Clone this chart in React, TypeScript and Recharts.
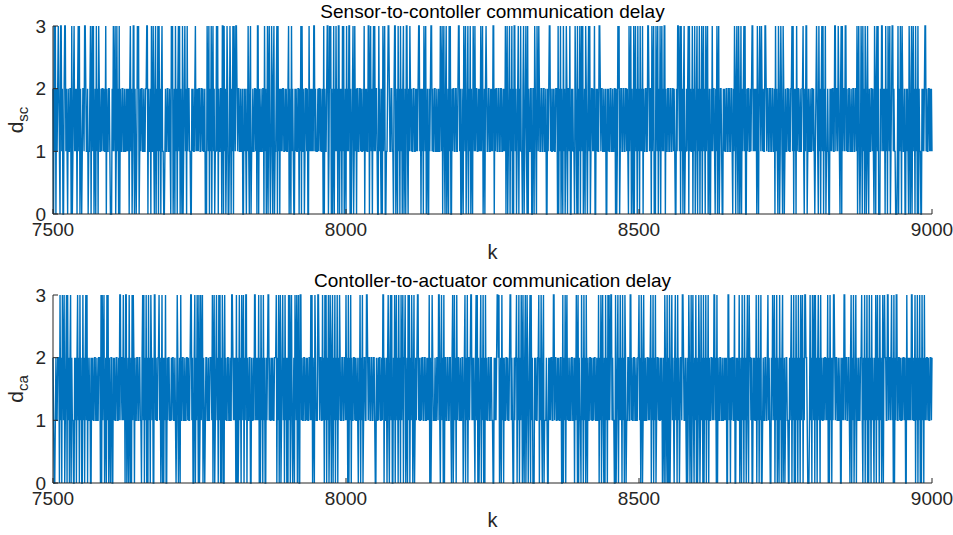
import { LineChart, Line, XAxis, YAxis } from "recharts"

const K_START = 7500
const K_TICKS = [7500, 8000, 8500, 9000]
const D_TICKS = [0, 1, 2, 3]

// delay samples, one digit per k (50 per row)
const SC_DELAY_ROWS = [
  "20313021232103312002331210211220301231212023130210",
  "12213321120112302313012031203211212212113021122100",
  "02131230131203021122112112121202312013302101323012",
  "12211211223302112031131023021303120231100121122112",
  "10323012031202313021030123120312211002121123121212",
  "21122121120103213021302312011313021122033031201320",
  "01320213032133212211211200212102131023011211221203",
  "30211211220312013023101320230112303120212122112121",
  "12302103121002121122021303112012212003121212133121",
  "11212212112030211233013230201302131203302120313012",
  "03121330201230131202211221211213021211330231202313",
  "12210031210203123001123321122110233012031203120230",
  "12033102132121122112121233120212032130120021233121",
  "12211211211321302310230120313002122112211233120021",
  "03213012302130210321312211212131230120232112211212",
  "13302122112211221121213023012302130203312012302131",
  "10230123103021122002203210321321122112211200212331",
  "21121211222030213021031201320221300212110321030213",
  "02313012032102313012212130021211332122112112002121",
  "12211211220201323012211221122121031230210302312031",
  "20312130211221133212203123010321302130231213302112",
  "21122112212100213321303120230112123031211302130123",
  "02130213023120312301200213122102130230122100212112",
  "21122112210213202310320130212313002122112123312121",
  "20310232132121133212211221122112031210320132103201",
  "21122121122313021203122112112231021330121121122121",
  "01232103120231302130112100212122113312213210230312",
  "21331211221121122112213023101320312032013102112212",
  "10320231300021331212031203213012331211000130213203",
  "21120021210320130231203120302110021212331211221212",
  "1",
]

const CA_DELAY_ROWS = [
  "21001211222031203213012303120230211002120231203120",
  "03120231302112002121122112112220303123012031302102",
  "20021211221121331221312033012031020313202112211221",
  "10231302130203120321200331211223120130202130021221",
  "11212211210132012031122112112212112331200230213203",
  "01312302101221121122213023012312031302032003121122",
  "11211332121203020131203213021330211220021121331212",
  "13020312031200212331211212112223021302301231203120",
  "20313023101203213023003312112211212112213130210321",
  "11332122113120313021301320230213021302132112211221",
  "31203021302112212112102130213012211332122112211221",
  "00211212211213302112023102313002130231203120312302",
  "23012031302132013012123312112122112211212130201321",
  "11211221331023120302211221122102301312031221121122",
  "01230213022123312121023130201230213020312112211221",
  "10021212332301203120211221211233121002122302130213",
  "20310230132012303120002121122302131023011121002121",
  "22113312211212112200302130231211211221120213203021",
  "10312031203102112212112122112113021302310203120313",
  "12331211003012302131203120320112211331211221121122",
  "31203201311211221212302130213012212112120120320130",
  "20301231210231203120122133211210201320130231021302",
  "01320131203021302130211221213312030211221121121212",
  "00331202122113002121130120312031202310322120021211",
  "30213021300121122112312100213213021302103120230120",
  "12211002123021302031203120312302133221000131203213",
  "03120231203121121221213020312021332122112112002121",
  "33122112210230213012302112112231021302130203120312",
  "10213023120312013023221133122123120302133112212112",
  "12212003121212133121130213021302031203121221211221",
  "2",
]

const FONT = '"Liberation Sans", Arial, Helvetica, sans-serif'
const AXIS_COLOR = "#262626"
const LINE_COLOR = "#0072BD"

const toSeries = (rows: string[]) =>
  rows
    .join("")
    .split("")
    .map((c, i) => ({ k: K_START + i, d: Number(c) }))

const scData = toSeries(SC_DELAY_ROWS)
const caData = toSeries(CA_DELAY_ROWS)

const tickStyle = { fill: AXIS_COLOR, fontSize: 19, fontFamily: FONT }

function YLabel({ viewBox, sub }: any) {
  const cy = viewBox.y + viewBox.height / 2
  const x = 23
  return (
    <text
      x={x}
      y={cy}
      transform={`rotate(-90, ${x}, ${cy})`}
      textAnchor="middle"
      fill={AXIS_COLOR}
      fontFamily={FONT}
      fontSize={21}
    >
      d
      <tspan fontSize={15} dy={5}>
        {sub}
      </tspan>
    </text>
  )
}

interface PanelProps {
  top: number
  height: number
  plotTop: number
  plotBottom: number
  title: string
  sub: string
  data: { k: number; d: number }[]
}

function Panel({ top, height, plotTop, plotBottom, title, sub, data }: PanelProps) {
  return (
    <div style={{ position: "absolute", left: 0, top, width: 953, height }}>
      <div
        style={{
          position: "absolute",
          left: 53,
          width: 879,
          top: plotTop - 25,
          textAlign: "center",
          fontFamily: FONT,
          fontSize: 19,
          lineHeight: "22px",
          color: "#000",
        }}
      >
        {title}
      </div>
      <LineChart width={953} height={height} data={data} margin={{ top: plotTop, right: 21, left: 0, bottom: 0 }}>
        <XAxis
          dataKey="k"
          type="number"
          domain={[7500, 9000]}
          ticks={K_TICKS}
          height={height - plotBottom}
          stroke={AXIS_COLOR}
          tickSize={-5}
          tickMargin={14}
          tick={tickStyle}
          label={{ value: "k", position: "insideBottom", offset: 8, fill: AXIS_COLOR, fontSize: 20, fontFamily: FONT }}
        />
        <XAxis
          xAxisId="top"
          dataKey="k"
          type="number"
          orientation="top"
          domain={[7500, 9000]}
          ticks={K_TICKS}
          height={0}
          stroke={AXIS_COLOR}
          tickSize={-5}
          tick={() => <g />}
        />
        <YAxis
          type="number"
          domain={[0, 3]}
          ticks={D_TICKS}
          width={53}
          stroke={AXIS_COLOR}
          tickSize={-5}
          tickMargin={12}
          tick={tickStyle}
          label={<YLabel sub={sub} />}
        />
        <YAxis
          yAxisId="right"
          orientation="right"
          type="number"
          domain={[0, 3]}
          ticks={D_TICKS}
          width={0}
          stroke={AXIS_COLOR}
          tickSize={-5}
          tick={() => <g />}
        />
        <Line
          type="linear"
          dataKey="d"
          stroke={LINE_COLOR}
          strokeWidth={1.4}
          dot={false}
          activeDot={false}
          isAnimationActive={false}
        />
      </LineChart>
    </div>
  )
}

export default function App() {
  return (
    <div style={{ position: "absolute", left: 0, top: 0, width: 953, height: 535, background: "#fff" }}>
      <Panel
        top={0}
        height={267}
        plotTop={26}
        plotBottom={214}
        title="Sensor-to-contoller communication delay"
        sub="sc"
        data={scData}
      />
      <Panel
        top={267}
        height={268}
        plotTop={28}
        plotBottom={216}
        title="Contoller-to-actuator communication delay"
        sub="ca"
        data={caData}
      />
    </div>
  )
}
